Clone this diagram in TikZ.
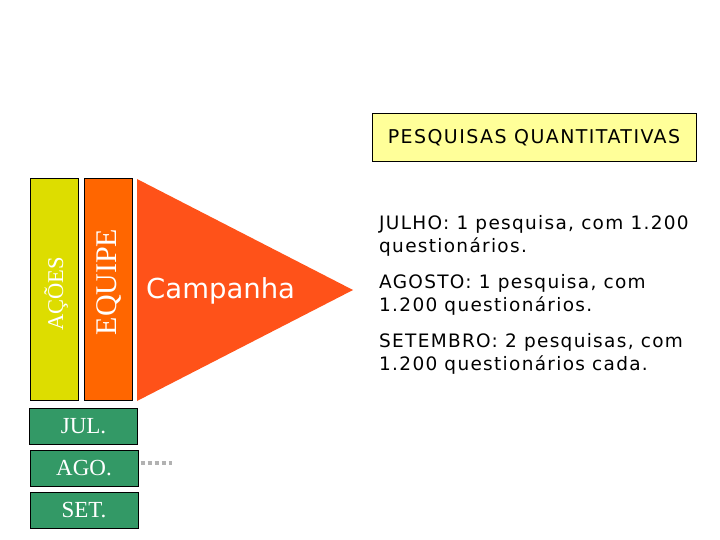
\documentclass[tikz,border=0pt]{standalone}
\usepackage{fontspec}
\setmainfont{Liberation Serif}
\newfontfamily\verd{DejaVu Sans}
\newfontfamily\verdls[LetterSpace=7]{DejaVu Sans}
\newfontfamily\verdlt[LetterSpace=7.5]{DejaVu Sans}
\definecolor{acoes}{HTML}{DDDD00}
\definecolor{equipe}{HTML}{FF6600}
\definecolor{camp}{HTML}{FF5219}
\definecolor{mes}{HTML}{339966}
\definecolor{pesq}{HTML}{FFFF99}
\begin{document}
\begin{tikzpicture}[x=1pt,y=-1pt,
  bar/.style={draw=black,line width=1pt,minimum width=48pt,minimum height=221pt,inner sep=0pt,text=white},
  month/.style={draw=black,line width=1pt,fill=mes,minimum width=108pt,minimum height=36pt,inner sep=0pt,text=white,font=\fontsize{23}{25}\selectfont},
  info/.style={anchor=north west,align=left,inner sep=0pt,font=\verdls\fontsize{18.5}{23}\selectfont}]
\useasboundingbox (0,0) rectangle (720,540);
\node[bar,fill=acoes] (acoes) at (54,289.5) {};
\node[rotate=90,text=white,font=\fontsize{22.5}{24}\selectfont,inner sep=0pt] (acoest) at (56,294) {AÇÕES};
\node[bar,fill=equipe] (equipe) at (108,289.5) {};
\node[rotate=90,text=white,font=\fontsize{30}{32}\selectfont,inner sep=0pt] (equipet) at (109,282) {EQUIPE};
\fill[camp] (137,179) coordinate (t1) -- (353,290) coordinate (t2) -- (137,401) coordinate (t3) -- cycle;
\node[anchor=west,text=white,font=\verd\fontsize{27.5}{29}\selectfont,inner sep=0pt] (camp) at (146,291) {Campanha};
\node[month] (jul) at (83.5,426) {JUL.};
\node[month] (ago) at (84,468) {AGO.};
\node[month] (set) at (84,510) {SET.};
\coordinate (dotend) at (172,463);
\draw[gray!60,line width=4pt,dash pattern=on 4pt off 3pt] (ago.east |- dotend) ++(2,0) -- (dotend);
\node[draw=black,line width=1pt,fill=pesq,minimum width=324pt,minimum height=48pt,inner sep=0pt,font=\verdlt\fontsize{19}{21}\selectfont] (pq) at (534,138) {PESQUISAS QUANTITATIVAS};
\node[info] (t1n) at (379,215) {JULHO: 1 pesquisa, com 1.200\\questionários.};
\node[info] (t2n) at (379,274) {AGOSTO: 1 pesquisa, com\\1.200 questionários.};
\node[info] (t3n) at (379,333) {SETEMBRO: 2 pesquisas, com\\1.200 questionários cada.};
\end{tikzpicture}
\end{document}
